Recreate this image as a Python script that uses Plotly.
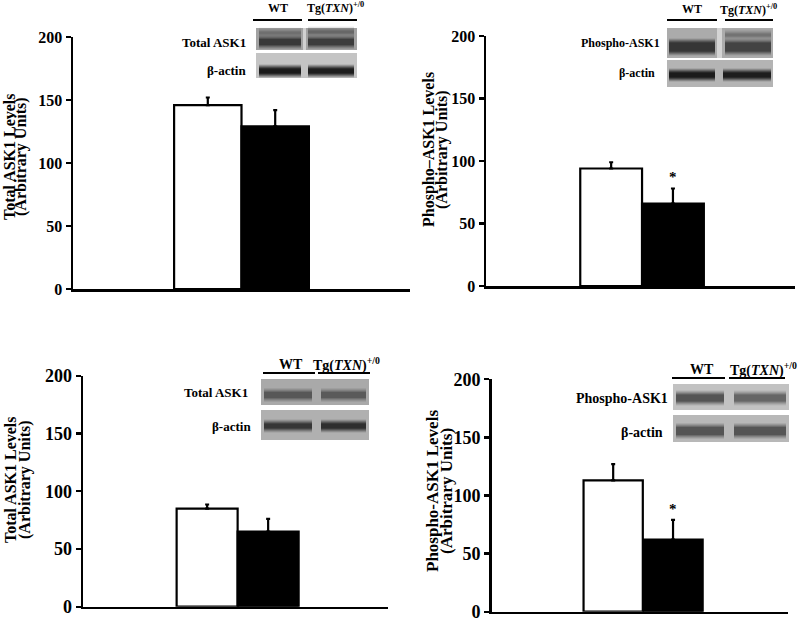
import plotly.graph_objects as go

# ---------------- data ----------------
groups = ["WT", "Tg(TXN)+/0"]
bar_colors = ["white", "black"]

total_ask1_a_mean = [146, 129]
total_ask1_a_err = [6, 13]

phospho_ask1_a_mean = [94, 66]
phospho_ask1_a_err = [5, 12]

total_ask1_b_mean = [85, 65]
total_ask1_b_err = [3.5, 11]

phospho_ask1_b_mean = [113, 62]
phospho_ask1_b_err = [14, 17]

y_ticks = [0, 50, 100, 150, 200]
significant = [False, True, False, True]

W, H = 800, 619
FONT = "Liberation Serif"


def px(x):
    return x / W


def py(y):
    return 1 - y / H


panels = [
    dict(mean=total_ask1_a_mean, err=total_ask1_a_err, title=["Total ASK1 Levels", "(Arbitrary Units)"],
         xdom=(73, 410), ydom=(289, 37), pos=[0.40, 0.60], tick=16, tfs=16,
         title_x=(9, 21), title_y=157),
    dict(mean=phospho_ask1_a_mean, err=phospho_ask1_a_err, title=["Phospho\u2013ASK1 Levels", "(Arbitrary Units)"],
         xdom=(486, 795), ydom=(286, 36), pos=[0.405, 0.605], tick=16, tfs=16,
         title_x=(429, 442), title_y=150),
    dict(mean=total_ask1_b_mean, err=total_ask1_b_err, title=["Total ASK1 Levels", "(Arbitrary Units)"],
         xdom=(83, 388), ydom=(606.7, 375.7), pos=[0.407, 0.607], tick=18, tfs=16,
         title_x=(10, 25), title_y=480),
    dict(mean=phospho_ask1_b_mean, err=phospho_ask1_b_err, title=["Phospho-ASK1 Levels", "(Arbitrary Units)"],
         xdom=(491.7, 788), ydom=(611.7, 379.3), pos=[0.41, 0.612], tick=18, tfs=17,
         title_x=(432, 446), title_y=491),
]

fig = go.Figure()
annotations = []
shapes = []

for i, p in enumerate(panels):
    n = "" if i == 0 else str(i + 1)
    fig.add_trace(go.Bar(
        x=p["pos"], y=p["mean"], width=0.2,
        marker=dict(color=bar_colors, line=dict(color="black", width=2.2)),
        error_y=dict(type="data", symmetric=False, array=p["err"], arrayminus=[0, 0],
                     color="black", thickness=2.2, width=2),
        xaxis="x" + n, yaxis="y" + n, hoverinfo="skip",
    ))
    fig.layout["xaxis" + n] = dict(
        domain=[px(p["xdom"][0]), px(p["xdom"][1])], range=[0, 1], anchor="y" + n,
        showline=True, linecolor="black", linewidth=2.5, showgrid=False, zeroline=False,
        showticklabels=False, ticks="", fixedrange=True, automargin=False)
    fig.layout["yaxis" + n] = dict(
        domain=[py(p["ydom"][0]), py(p["ydom"][1])], range=[0, 200], anchor="x" + n,
        showline=True, linecolor="black", linewidth=2.5, showgrid=False, zeroline=False,
        tickvals=y_ticks, ticks="outside", ticklen=5, tickwidth=2.2, tickcolor="black",
        tickfont=dict(family=FONT, size=p["tick"], color="black", weight="bold"),
        ticklabeloverflow="allow", fixedrange=True, automargin=False)
    for line_text, tx in zip(p["title"], p["title_x"]):
        annotations.append(dict(
            x=px(tx), y=py(p["title_y"]), xref="paper", yref="paper", text=line_text,
            textangle=-90, showarrow=False, xanchor="center", yanchor="middle",
            font=dict(family=FONT, size=p["tfs"], color="black", weight="bold")))
    if significant[i]:
        annotations.append(dict(
            x=p["pos"][1], y=p["mean"][1] + p["err"][1] + 9, xref="x" + n, yref="y" + n,
            text="*", showarrow=False, xanchor="center", yanchor="middle",
            font=dict(family=FONT, size=15, color="black", weight="bold")))


# ---------------- western blot insets (decoration) ----------------
def rect(x0, y0, x1, y1, color, opacity=1.0):
    shapes.append(dict(type="rect", xref="paper", yref="paper", x0=px(x0), x1=px(x1),
                       y0=py(y1), y1=py(y0), fillcolor=color, opacity=opacity,
                       line=dict(width=0), layer="above"))


def band(x0, x1, yc, h, color, strength=1.0):
    for grow, op in [(4, 0.18), (3, 0.25), (2, 0.35), (1, 0.5), (0, 0.8)]:
        rect(x0 + 1, yc - h / 2 - grow, x1 - 1, yc + h / 2 + grow, color, op * strength)


def blot_row(x0, x1, y0, y1, bg, lanes, yc, h, color, gap=None):
    rect(x0, y0, x1, y1, bg)
    for (lx0, lx1, s) in lanes:
        band(lx0, lx1, yc, h, color, s)
    if gap:
        rect(gap[0], y0, gap[1], y1, "#e6e6e6", 0.7)


def header(wt_x, tg_x, ty, l1, l2, ly, fs):
    annotations.append(dict(x=px(wt_x), y=py(ty), xref="paper", yref="paper", text="WT",
                            xanchor="center", yanchor="middle",
                            showarrow=False, font=dict(family=FONT, size=fs, color="black", weight="bold")))
    annotations.append(dict(x=px(tg_x), y=py(ty), xref="paper", yref="paper",
                            text="Tg(<i>TXN</i>)<sup>+/0</sup>", xanchor="center", yanchor="middle",
                            showarrow=False, font=dict(family=FONT, size=fs, color="black", weight="bold")))
    for a, b in (l1, l2):
        shapes.append(dict(type="line", xref="paper", yref="paper", x0=px(a), x1=px(b),
                           y0=py(ly), y1=py(ly), line=dict(color="black", width=2)))


def row_label(text, xr, y, fs):
    annotations.append(dict(x=px(xr), y=py(y), xref="paper", yref="paper", text=text,
                            xanchor="right", yanchor="middle",
                            showarrow=False, font=dict(family=FONT, size=fs, color="black", weight="bold")))


# panel 1
header(278, 335, 8, (253, 302), (308, 357), 20, 12)
blot_row(256, 357, 28, 50, "#a2a2a2", [(258, 302, 0.8), (307, 355, 0.75)], 42, 6, "#2e2e2e", gap=(303, 306))
band(258, 302, 33, 3, "#505050", 0.4)
band(307, 355, 32, 3, "#505050", 0.5)
blot_row(256, 357, 53, 78, "#c4c4c4", [(258, 302, 1.0), (307, 355, 0.95)], 71, 5, "#151515")
row_label("Total ASK1", 248, 42, 13)
row_label("\u03b2-actin", 248, 71, 13)

# panel 2
header(692, 748, 9, (667, 717), (725, 773), 20, 12)
blot_row(667, 773, 28, 58, "#ababab", [(668, 716, 0.95), (724, 772, 0.7)], 47, 9, "#303030", gap=(717, 722))
band(724, 772, 35, 3, "#505050", 0.4)
blot_row(667, 773, 60, 87, "#b4b4b4", [(668, 716, 1.0), (722, 772, 0.95)], 75, 5, "#151515")
row_label("Phospho-ASK1", 662, 43, 12)
row_label("\u03b2-actin", 657, 73, 12)

# panel 3
header(291, 346, 364, (263, 315), (318, 370), 373, 14)
blot_row(261, 369, 379, 405, "#a9a9a9", [(263, 313, 0.6), (320, 367, 0.55)], 395, 6, "#404040")
blot_row(261, 369, 410, 440, "#b0b0b0", [(263, 313, 0.75), (320, 367, 0.9)], 426, 5, "#252525")
row_label("Total ASK1", 250, 392, 13)
row_label("\u03b2-actin", 253, 426, 13)

# panel 4
header(702, 763, 369, (672, 725), (729, 785), 378, 14)
blot_row(673, 789, 384, 410, "#c2c2c2", [(675, 725, 0.7), (733, 787, 0.5)], 398, 7, "#404040")
blot_row(673, 789, 415, 442, "#b8b8b8", [(675, 725, 0.65), (733, 787, 0.65)], 431, 8, "#404040")
row_label("Phospho-ASK1", 670, 398, 14)
row_label("\u03b2-actin", 665, 432, 14)

fig.update_layout(
    template="none",
    width=W, height=H, margin=dict(l=0, r=0, t=0, b=0, pad=0, autoexpand=False),
    paper_bgcolor="white", plot_bgcolor="white", showlegend=False,
    annotations=annotations, shapes=shapes, bargap=0,
)

fig.write_html("out.html", config={"displayModeBar": False, "staticPlot": True},
               post_script="document.body.style.margin='0';document.body.style.overflow='hidden';")
